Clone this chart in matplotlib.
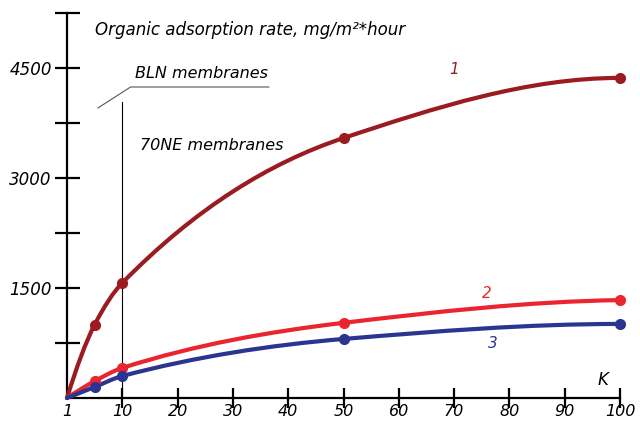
import numpy as np
import matplotlib
matplotlib.use("Agg")
import matplotlib.pyplot as plt
from matplotlib.path import Path
from matplotlib.patches import PathPatch

# ---- data ----
K = [1, 5, 10, 50, 100]
rate_1 = [0, 1000, 1570, 3545, 4365]
rate_2 = [0, 230, 410, 1025, 1335]
rate_3 = [0, 150, 300, 805, 1010]
x_ticks = [1, 10, 20, 30, 40, 50, 60, 70, 80, 90, 100]
y_ticks = [750, 1500, 2250, 3000, 3750, 4500, 5250]
y_labeled = [1500, 3000, 4500]
series_names = ["1", "2", "3"]
title = "Organic adsorption rate, mg/m²*hour"

colors = ["#9a1b20", "#ea2530", "#2a3590"]
FONT = dict(family="DejaVu Sans", style="italic")


def pos(k):
    k = np.asarray(k, dtype=float)
    return np.where(k < 5, (k - 1) * 5 / 4, k)


def pchip_slopes(x, y):
    x = np.asarray(x, float); y = np.asarray(y, float)
    h = np.diff(x); d = np.diff(y) / h
    n = len(x); m = np.zeros(n)
    for i in range(1, n - 1):
        if d[i - 1] * d[i] <= 0:
            m[i] = 0
        else:
            w1 = 2 * h[i] + h[i - 1]; w2 = h[i] + 2 * h[i - 1]
            m[i] = (w1 + w2) / (w1 / d[i - 1] + w2 / d[i])
    m[0] = ((2 * h[0] + h[1]) * d[0] - h[0] * d[1]) / (h[0] + h[1])
    if m[0] * d[0] <= 0:
        m[0] = 0
    elif d[0] * d[1] <= 0 and abs(m[0]) > abs(3 * d[0]):
        m[0] = 3 * d[0]
    m[-1] = ((2 * h[-1] + h[-2]) * d[-1] - h[-1] * d[-2]) / (h[-1] + h[-2])
    if m[-1] * d[-1] <= 0:
        m[-1] = 0
    return m


def smooth_path(x, y):
    x = np.asarray(x, float); y = np.asarray(y, float)
    m = pchip_slopes(x, y)
    verts = [(x[0], y[0])]; codes = [Path.MOVETO]
    for i in range(len(x) - 1):
        h = x[i + 1] - x[i]
        verts += [(x[i] + h / 3, y[i] + m[i] * h / 3),
                  (x[i + 1] - h / 3, y[i + 1] - m[i + 1] * h / 3),
                  (x[i + 1], y[i + 1])]
        codes += [Path.CURVE4] * 3
    return Path(verts, codes)


fig = plt.figure(figsize=(6.4, 4.23), dpi=100)
ax = fig.add_axes([67 / 640, 25 / 423, 553 / 640, 385 / 423])
ax.set_xlim(0, 100)
ax.set_ylim(0, 5250)

xp = pos(K)
for ys, c in zip([rate_1, rate_2, rate_3], colors):
    patch = PathPatch(smooth_path(xp, ys), fill=False, edgecolor=c, lw=3.0,
                      capstyle="round", joinstyle="round", clip_on=False, zorder=3)
    ax.add_patch(patch)
    ax.plot(xp[1:], ys[1:], "o", color=c, ms=7, clip_on=False, zorder=4)

# spines
for s in ["top", "right"]:
    ax.spines[s].set_visible(False)
for s in ["left", "bottom"]:
    ax.spines[s].set_linewidth(1.6)
    ax.spines[s].set_color("black")

ax.set_yticks(y_ticks)
ax.set_yticklabels([str(v) if v in y_labeled else "" for v in y_ticks], **FONT, fontsize=12)
ax.tick_params(axis="y", direction="inout", length=18, width=1.6, pad=2)
ax.set_xticks(pos(x_ticks))
ax.set_xticklabels([str(v) for v in x_ticks], **FONT, fontsize=11.5)
ax.tick_params(axis="x", direction="inout", length=14, width=1.6, pad=-3)
ax.xaxis.get_major_ticks()[0].tick1line.set_visible(False)

# texts
ax.text(pos(5.06), 5020, title, ha="left", va="center", fontsize=12, **FONT)
ax.text(pos(100) - 3, 245, "K", ha="center", va="center", fontsize=12, **FONT)

ax.text(pos(70), 4480, series_names[0], color=colors[0], ha="center", va="center", fontsize=11, **FONT)
ax.text(pos(76), 1430, series_names[1], color=colors[1], ha="center", va="center", fontsize=11, **FONT)
ax.text(pos(77), 750, series_names[2], color=colors[2], ha="center", va="center", fontsize=11, **FONT)

# BLN annotation
ax.text(pos(12.3), 4420, "BLN membranes", ha="left", va="center", fontsize=11.5, **FONT)
ax.plot([pos(5.6), pos(11.5), pos(36.5)], [3955, 4241, 4241], color="#555555", lw=0.8, clip_on=False)
ax.plot([pos(10), pos(10)], [0, 4030], color="black", lw=0.8)
ax.text(pos(13.2), 3450, "70NE membranes", ha="left", va="center", fontsize=11.5, **FONT)

fig.savefig("out.png", dpi=100)
